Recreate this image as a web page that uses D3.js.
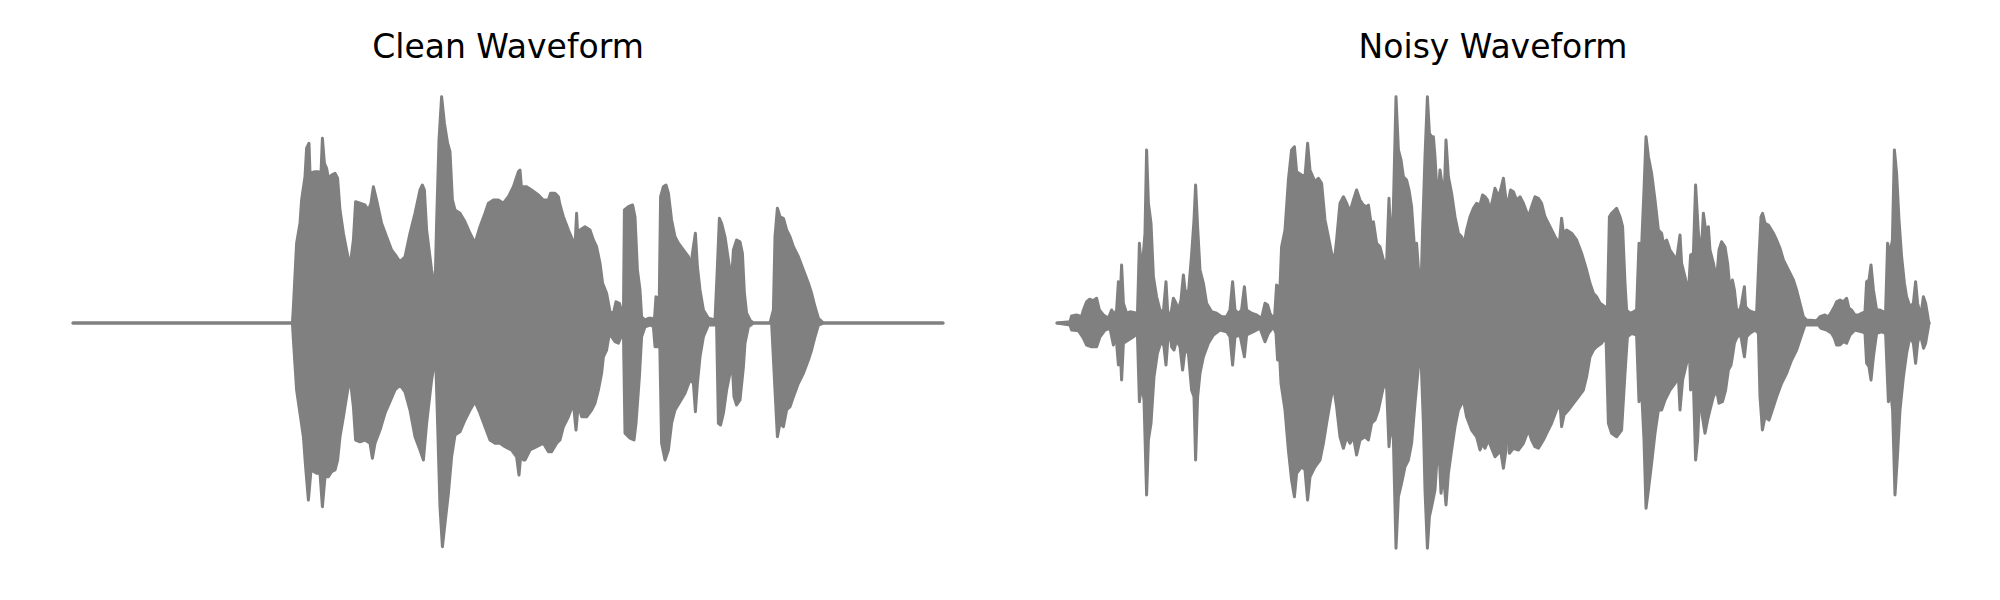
<!DOCTYPE html>
<html>
<head>
<meta charset="utf-8">
<script src="https://cdn.jsdelivr.net/npm/d3@7"></script>
<style>
  html, body { margin: 0; padding: 0; background: #ffffff; }
  svg { display: block; }
</style>
</head>
<body>
<div id="chart"></div>
<script>
// ---- Data (time in ms, amplitude normalised) ----
const panelTitles = ["Clean Waveform", "Noisy Waveform"];
const cleanDuration = 4350;
const noisyDuration = 4360;

// Clean waveform: upper envelope [t, amplitude]
const cleanUpper = [[0,0],[1097,0],[1102,0.065],[1118,0.319],[1135,0.399],[1143,0.492],[1160,0.585],[1168,0.699],[1180,0.719],[1185,0.599],[1210,0.605],[1227,0.605],[1240,0.599],[1247,0.739],[1257,0.639],[1268,0.619],[1277,0.579],[1293,0.592],[1310,0.599],[1323,0.579],[1335,0.452],[1352,0.359],[1368,0.292],[1385,0.225],[1402,0.332],[1413,0.485],[1435,0.479],[1460,0.472],[1477,0.452],[1490,0.479],[1502,0.545],[1518,0.492],[1543,0.399],[1568,0.345],[1593,0.292],[1618,0.265],[1635,0.245],[1660,0.265],[1685,0.359],[1710,0.439],[1735,0.532],[1747,0.552],[1757,0.532],[1768,0.372],[1793,0.212],[1810,0.132],[1818,0.399],[1830,0.732],[1843,0.905],[1857,0.799],[1873,0.719],[1885,0.685],[1897,0.492],[1910,0.452],[1935,0.439],[1960,0.405],[1985,0.359],[2010,0.319],[2035,0.385],[2060,0.439],[2077,0.479],[2102,0.492],[2127,0.492],[2152,0.479],[2177,0.505],[2202,0.545],[2227,0.605],[2235,0.612],[2242,0.545],[2247,0.232],[2252,0.545],[2268,0.545],[2293,0.532],[2327,0.512],[2352,0.492],[2377,0.492],[2388,0.519],[2410,0.519],[2427,0.505],[2435,0.472],[2452,0.425],[2477,0.372],[2502,0.325],[2510,0.305],[2518,0.439],[2527,0.292],[2535,0.372],[2560,0.385],[2585,0.372],[2602,0.332],[2618,0.305],[2635,0.239],[2648,0.159],[2668,0.119],[2685,0.045],[2702,0.039],[2715,0.085],[2732,0.079],[2743,0.045],[2752,0.012],[2757,0.452],[2777,0.465],[2798,0.472],[2810,0.425],[2822,0.212],[2835,0.132],[2843,0.025],[2860,0.012],[2877,0.019],[2893,0.019],[2907,0.012],[2915,0.105],[2923,0.099],[2930,0.012],[2938,0.505],[2952,0.545],[2965,0.552],[2977,0.519],[2993,0.412],[3010,0.345],[3027,0.319],[3052,0.292],[3077,0.265],[3088,0.225],[3102,0.305],[3112,0.359],[3122,0.225],[3135,0.132],[3152,0.052],[3177,0.019],[3210,0.012],[3222,0.225],[3232,0.419],[3243,0.399],[3260,0.345],[3277,0.252],[3293,0.172],[3302,0.292],[3318,0.332],[3335,0.325],[3347,0.279],[3357,0.119],[3368,0.039],[3385,0.012],[3402,0],[3485,0],[3502,0.052],[3510,0.345],[3522,0.459],[3535,0.425],[3552,0.419],[3568,0.372],[3585,0.345],[3602,0.305],[3627,0.265],[3652,0.212],[3677,0.159],[3693,0.119],[3710,0.065],[3727,0.019],[3752,0],[4350,0]];

// Clean waveform: lower envelope [t, amplitude]
const cleanLower = [[0,0],[1097,0],[1102,-0.068],[1118,-0.268],[1135,-0.361],[1152,-0.455],[1163,-0.575],[1177,-0.708],[1190,-0.588],[1218,-0.601],[1235,-0.601],[1247,-0.735],[1260,-0.615],[1277,-0.615],[1293,-0.595],[1310,-0.588],[1323,-0.548],[1335,-0.455],[1352,-0.375],[1368,-0.295],[1385,-0.215],[1402,-0.335],[1413,-0.468],[1435,-0.475],[1460,-0.468],[1485,-0.481],[1497,-0.541],[1510,-0.481],[1535,-0.428],[1560,-0.361],[1585,-0.315],[1610,-0.268],[1635,-0.248],[1660,-0.275],[1685,-0.348],[1710,-0.455],[1735,-0.508],[1752,-0.548],[1768,-0.401],[1793,-0.228],[1813,-0.128],[1823,-0.401],[1835,-0.735],[1847,-0.895],[1860,-0.801],[1877,-0.681],[1893,-0.535],[1910,-0.448],[1935,-0.435],[1960,-0.388],[1985,-0.348],[2010,-0.315],[2035,-0.361],[2060,-0.415],[2085,-0.468],[2110,-0.481],[2135,-0.481],[2160,-0.495],[2193,-0.508],[2218,-0.535],[2230,-0.608],[2238,-0.535],[2245,-0.228],[2252,-0.548],[2260,-0.548],[2285,-0.508],[2318,-0.495],[2352,-0.481],[2377,-0.515],[2393,-0.515],[2418,-0.481],[2435,-0.468],[2452,-0.415],[2477,-0.375],[2502,-0.321],[2515,-0.428],[2527,-0.321],[2543,-0.375],[2568,-0.375],[2593,-0.348],[2610,-0.321],[2627,-0.268],[2643,-0.201],[2652,-0.135],[2668,-0.108],[2682,-0.041],[2693,-0.055],[2710,-0.075],[2727,-0.081],[2740,-0.055],[2752,-0.028],[2760,-0.441],[2785,-0.461],[2805,-0.468],[2815,-0.401],[2832,-0.215],[2843,-0.055],[2860,-0.015],[2885,-0.008],[2902,-0.015],[2910,-0.095],[2922,-0.095],[2932,0],[2943,-0.481],[2960,-0.548],[2977,-0.508],[2993,-0.401],[3010,-0.348],[3035,-0.315],[3060,-0.281],[3085,-0.228],[3102,-0.241],[3112,-0.355],[3122,-0.241],[3135,-0.135],[3152,-0.055],[3177,-0.008],[3218,-0.008],[3227,-0.401],[3238,-0.408],[3252,-0.361],[3268,-0.268],[3285,-0.201],[3297,-0.175],[3305,-0.295],[3318,-0.328],[3335,-0.308],[3352,-0.175],[3360,-0.081],[3377,-0.015],[3402,0],[3493,0],[3510,-0.268],[3522,-0.455],[3535,-0.401],[3552,-0.415],[3568,-0.348],[3585,-0.335],[3602,-0.295],[3627,-0.241],[3652,-0.201],[3677,-0.148],[3693,-0.108],[3710,-0.055],[3727,-0.008],[3752,0],[4350,0]];

// Noisy waveform: upper envelope [t, amplitude]
const noisyUpper = [[0,0],[65,0.005],[73,0.028],[98,0.032],[123,0.025],[132,0.052],[148,0.085],[162,0.095],[182,0.089],[198,0.099],[212,0.052],[232,0.032],[257,0.019],[273,0.052],[285,0.032],[298,0.052],[307,0.165],[315,0.079],[323,0.232],[332,0.079],[348,0.039],[365,0.045],[390,0.041],[402,0.025],[412,0.319],[420,0.239],[432,0.279],[440,0.359],[448,0.692],[457,0.479],[470,0.399],[482,0.185],[498,0.105],[515,0.052],[532,0.045],[545,0.165],[553,0.052],[565,0.012],[582,0.099],[595,0.079],[607,0.052],[620,0.092],[632,0.192],[640,0.132],[657,0.119],[673,0.272],[685,0.412],[693,0.552],[703,0.385],[715,0.212],[732,0.159],[748,0.079],[773,0.045],[798,0.039],[823,0.025],[848,0.025],[865,0.052],[878,0.165],[890,0.052],[907,0.039],[923,0.052],[937,0.145],[948,0.052],[973,0.039],[998,0.032],[1023,0.019],[1040,0.079],[1053,0.072],[1065,0.039],[1087,0.012],[1098,0.152],[1107,0.145],[1115,0.145],[1123,0.305],[1140,0.372],[1157,0.572],[1173,0.692],[1187,0.705],[1198,0.605],[1223,0.592],[1240,0.585],[1253,0.719],[1265,0.612],[1290,0.565],[1307,0.579],[1323,0.559],[1340,0.412],[1357,0.345],[1373,0.279],[1387,0.252],[1398,0.332],[1415,0.479],[1432,0.505],[1448,0.479],[1465,0.445],[1482,0.492],[1498,0.532],[1515,0.492],[1532,0.472],[1548,0.465],[1557,0.472],[1570,0.399],[1582,0.405],[1598,0.319],[1615,0.305],[1632,0.252],[1648,0.239],[1660,0.499],[1670,0.292],[1682,0.465],[1695,0.905],[1707,0.692],[1720,0.652],[1732,0.585],[1748,0.572],[1760,0.532],[1773,0.465],[1787,0.305],[1798,0.319],[1810,0.185],[1820,0.132],[1828,0.372],[1840,0.665],[1852,0.905],[1862,0.759],[1873,0.745],[1882,0.745],[1890,0.665],[1903,0.479],[1915,0.612],[1927,0.545],[1937,0.532],[1945,0.732],[1957,0.585],[1973,0.519],[1990,0.425],[2007,0.359],[2023,0.345],[2037,0.319],[2048,0.372],[2065,0.425],[2082,0.459],[2098,0.479],[2115,0.472],[2128,0.512],[2140,0.505],[2152,0.492],[2165,0.452],[2178,0.492],[2190,0.539],[2207,0.505],[2218,0.532],[2232,0.579],[2245,0.492],[2252,0.239],[2258,0.492],[2268,0.532],[2282,0.525],[2298,0.492],[2315,0.505],[2332,0.479],[2357,0.425],[2373,0.465],[2390,0.505],[2407,0.499],[2423,0.479],[2440,0.425],[2465,0.385],[2490,0.345],[2512,0.319],[2523,0.419],[2532,0.359],[2548,0.372],[2573,0.359],[2598,0.332],[2623,0.279],[2648,0.212],[2665,0.159],[2682,0.119],[2698,0.105],[2715,0.079],[2740,0.065],[2752,0.052],[2762,0.425],[2773,0.439],[2798,0.459],[2815,0.425],[2828,0.385],[2840,0.159],[2848,0.052],[2865,0.039],[2882,0.045],[2898,0.052],[2910,0.319],[2923,0.305],[2935,0.532],[2945,0.745],[2957,0.665],[2973,0.599],[2990,0.492],[3007,0.372],[3023,0.359],[3032,0.319],[3048,0.332],[3065,0.292],[3082,0.272],[3098,0.252],[3115,0.352],[3123,0.239],[3140,0.185],[3157,0.119],[3168,0.272],[3182,0.279],[3193,0.552],[3207,0.359],[3220,0.265],[3232,0.439],[3243,0.372],[3257,0.385],[3265,0.292],[3282,0.239],[3298,0.172],[3310,0.292],[3323,0.325],[3340,0.305],[3353,0.239],[3365,0.132],[3377,0.172],[3387,0.132],[3398,0.052],[3415,0.052],[3423,0.079],[3437,0.145],[3443,0.065],[3457,0.052],[3473,0.045],[3498,0.039],[3510,0.265],[3520,0.425],[3528,0.439],[3540,0.399],[3557,0.392],[3582,0.359],[3598,0.332],[3615,0.299],[3632,0.252],[3657,0.212],[3682,0.172],[3698,0.132],[3715,0.079],[3732,0.025],[3748,0.012],[3798,0.009],[3815,0.025],[3840,0.032],[3857,0.025],[3873,0.045],[3887,0.065],[3898,0.085],[3915,0.092],[3932,0.085],[3948,0.099],[3960,0.059],[3973,0.052],[3990,0.032],[4007,0.032],[4023,0.039],[4040,0.045],[4048,0.165],[4060,0.172],[4070,0.232],[4082,0.132],[4098,0.052],[4115,0.052],[4132,0.045],[4143,0.045],[4153,0.319],[4165,0.279],[4177,0.332],[4187,0.692],[4198,0.599],[4210,0.412],[4223,0.265],[4237,0.159],[4248,0.105],[4265,0.065],[4282,0.079],[4293,0.165],[4303,0.079],[4315,0.039],[4323,0.052],[4332,0.105],[4343,0.079],[4357,0.012],[4360,0]];

// Noisy waveform: lower envelope [t, amplitude]
const noisyLower = [[0,0],[65,-0.008],[73,-0.028],[107,-0.031],[132,-0.061],[148,-0.088],[173,-0.095],[198,-0.095],[215,-0.055],[240,-0.028],[265,-0.021],[282,-0.088],[290,-0.041],[298,-0.081],[307,-0.168],[315,-0.081],[323,-0.228],[332,-0.081],[357,-0.068],[382,-0.055],[402,-0.041],[412,-0.315],[423,-0.241],[435,-0.308],[448,-0.688],[457,-0.468],[470,-0.401],[485,-0.215],[502,-0.121],[523,-0.068],[535,-0.095],[545,-0.168],[553,-0.081],[565,-0.021],[573,-0.095],[585,-0.108],[598,-0.068],[615,-0.095],[628,-0.188],[640,-0.108],[657,-0.121],[673,-0.268],[685,-0.295],[693,-0.548],[703,-0.295],[715,-0.201],[732,-0.135],[757,-0.081],[782,-0.048],[815,-0.028],[848,-0.035],[865,-0.055],[878,-0.168],[890,-0.055],[915,-0.048],[937,-0.135],[948,-0.048],[982,-0.035],[1015,-0.021],[1040,-0.075],[1057,-0.041],[1082,-0.015],[1095,-0.041],[1103,-0.148],[1110,-0.081],[1120,-0.241],[1140,-0.348],[1157,-0.508],[1173,-0.628],[1187,-0.695],[1198,-0.601],[1223,-0.575],[1240,-0.588],[1253,-0.708],[1265,-0.615],[1290,-0.575],[1315,-0.548],[1332,-0.481],[1348,-0.401],[1365,-0.321],[1382,-0.248],[1398,-0.335],[1415,-0.455],[1432,-0.501],[1448,-0.455],[1465,-0.481],[1482,-0.455],[1498,-0.528],[1515,-0.468],[1540,-0.455],[1557,-0.468],[1573,-0.401],[1590,-0.388],[1607,-0.348],[1632,-0.255],[1648,-0.255],[1660,-0.495],[1670,-0.388],[1682,-0.468],[1695,-0.901],[1707,-0.695],[1723,-0.641],[1740,-0.575],[1757,-0.548],[1773,-0.481],[1790,-0.321],[1807,-0.175],[1820,-0.135],[1832,-0.401],[1840,-0.668],[1852,-0.901],[1862,-0.775],[1873,-0.735],[1890,-0.668],[1907,-0.455],[1920,-0.681],[1932,-0.601],[1945,-0.728],[1957,-0.601],[1973,-0.508],[1990,-0.415],[2007,-0.348],[2032,-0.308],[2048,-0.375],[2073,-0.428],[2098,-0.455],[2115,-0.508],[2128,-0.481],[2140,-0.501],[2157,-0.468],[2173,-0.501],[2190,-0.535],[2207,-0.521],[2218,-0.508],[2232,-0.581],[2245,-0.508],[2252,-0.228],[2262,-0.521],[2282,-0.501],[2307,-0.508],[2332,-0.481],[2357,-0.428],[2373,-0.468],[2390,-0.495],[2407,-0.501],[2432,-0.468],[2448,-0.441],[2473,-0.401],[2498,-0.348],[2515,-0.321],[2523,-0.415],[2535,-0.368],[2557,-0.348],[2582,-0.321],[2607,-0.295],[2632,-0.268],[2648,-0.215],[2665,-0.135],[2682,-0.108],[2698,-0.095],[2723,-0.081],[2745,-0.055],[2757,-0.401],[2773,-0.441],[2798,-0.455],[2823,-0.428],[2840,-0.201],[2852,-0.055],[2873,-0.041],[2898,-0.048],[2910,-0.315],[2923,-0.268],[2935,-0.468],[2945,-0.741],[2957,-0.668],[2973,-0.561],[2990,-0.441],[3007,-0.348],[3023,-0.348],[3040,-0.308],[3065,-0.268],[3090,-0.241],[3107,-0.215],[3115,-0.348],[3128,-0.228],[3148,-0.161],[3162,-0.108],[3168,-0.268],[3182,-0.241],[3193,-0.548],[3203,-0.468],[3215,-0.268],[3227,-0.375],[3240,-0.441],[3253,-0.388],[3265,-0.348],[3282,-0.295],[3298,-0.268],[3310,-0.321],[3327,-0.315],[3343,-0.268],[3357,-0.188],[3370,-0.168],[3377,-0.135],[3387,-0.081],[3398,-0.061],[3415,-0.041],[3423,-0.068],[3437,-0.135],[3448,-0.055],[3465,-0.041],[3490,-0.028],[3507,-0.041],[3515,-0.295],[3527,-0.428],[3540,-0.375],[3560,-0.388],[3582,-0.335],[3598,-0.295],[3623,-0.241],[3648,-0.201],[3673,-0.148],[3698,-0.108],[3720,-0.055],[3740,-0.008],[3807,-0.008],[3820,-0.021],[3848,-0.028],[3873,-0.041],[3887,-0.061],[3898,-0.088],[3915,-0.088],[3932,-0.075],[3948,-0.081],[3965,-0.048],[3990,-0.028],[4023,-0.035],[4040,-0.041],[4048,-0.161],[4060,-0.175],[4070,-0.228],[4082,-0.135],[4098,-0.041],[4123,-0.035],[4143,-0.041],[4157,-0.315],[4168,-0.268],[4178,-0.348],[4190,-0.688],[4202,-0.535],[4215,-0.348],[4232,-0.215],[4248,-0.121],[4265,-0.055],[4282,-0.081],[4293,-0.161],[4303,-0.081],[4315,-0.041],[4323,-0.068],[4333,-0.101],[4343,-0.081],[4357,-0.015],[4360,0]];

// ---- Drawing ----
const W = 2000, H = 600;
const svg = d3.select("#chart").append("svg")
  .attr("width", W).attr("height", H)
  .attr("viewBox", `0 0 ${W} ${H}`);
svg.append("rect").attr("width", W).attr("height", H).attr("fill", "#ffffff");

const yScale = d3.scaleLinear().domain([-1, 1]).range([573, 73]);

const panels = [
  { title: panelTitles[0], domain: [0, cleanDuration], range: [73, 943], upper: cleanUpper, lower: cleanLower },
  { title: panelTitles[1], domain: [0, noisyDuration], range: [1057, 1929], upper: noisyUpper, lower: noisyLower }
];

panels.forEach(p => {
  const x = d3.scaleLinear().domain(p.domain).range(p.range);
  const g = svg.append("g");
  const area = d3.area()
    .x(d => x(d[0]))
    .y0(yScale(0))
    .y1(d => yScale(d[1]));
  [p.upper, p.lower].forEach(env => {
    g.append("path")
      .datum(env)
      .attr("d", area)
      .attr("fill", "#808080")
      .attr("stroke", "#808080")
      .attr("stroke-width", 3)
      .attr("stroke-linejoin", "round")
      .attr("stroke-linecap", "round");
  });
  svg.append("text")
    .attr("x", (p.range[0] + p.range[1]) / 2)
    .attr("y", 57.5)
    .attr("text-anchor", "middle")
    .attr("font-family", "DejaVu Sans, sans-serif")
    .attr("font-size", 33)
    .attr("fill", "#000000")
    .text(p.title);
});
</script>
</body>
</html>
